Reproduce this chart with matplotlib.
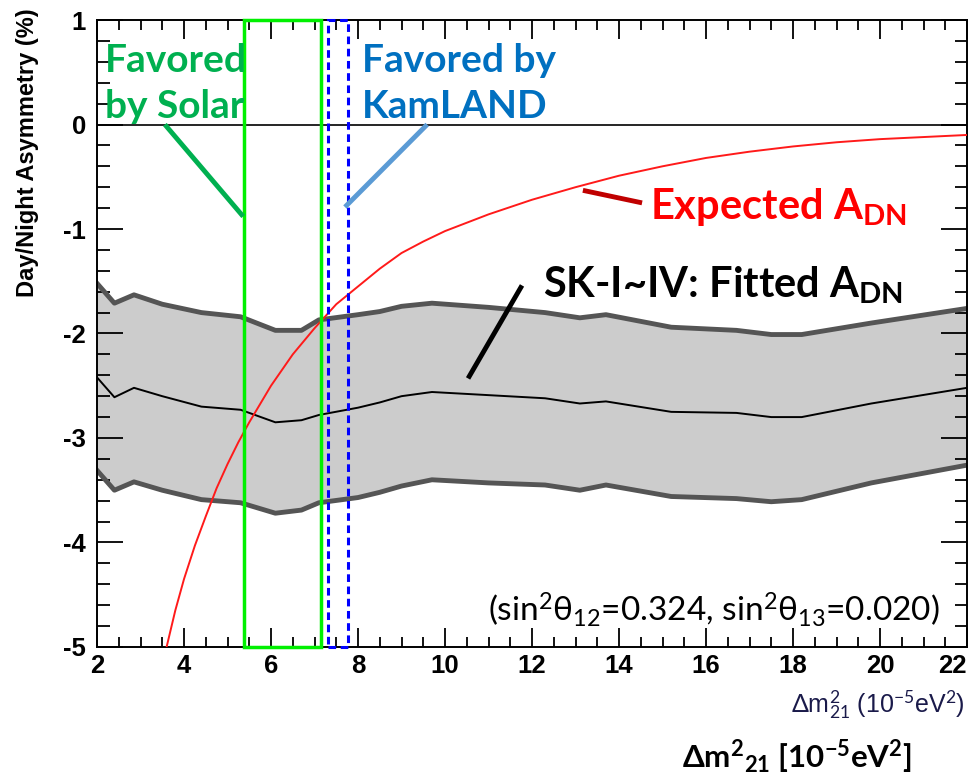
import numpy as np
import matplotlib.pyplot as plt
from matplotlib.patches import Rectangle

plt.rcParams['mathtext.fontset'] = 'custom'
plt.rcParams['mathtext.rm'] = 'Lato'
plt.rcParams['mathtext.it'] = 'Lato:italic'
plt.rcParams['mathtext.bf'] = 'Lato:bold'

# fitted A_DN band (SK-I~IV)
fit_x = [2.0, 2.4, 2.85, 3.5, 4.4, 5.3, 6.1, 6.7, 7.1, 8.0, 8.5, 9.0, 9.7, 11.0,
         12.3, 13.1, 13.7, 15.2, 16.7, 17.5, 18.2, 19.8, 22.0]
fit_mid = [-2.42, -2.61, -2.52, -2.60, -2.70, -2.73, -2.85, -2.83, -2.78, -2.71,
           -2.66, -2.60, -2.56, -2.59, -2.62, -2.67, -2.65, -2.75, -2.76, -2.80,
           -2.80, -2.67, -2.52]
fit_hi = [-1.52, -1.71, -1.63, -1.72, -1.80, -1.84, -1.97, -1.97, -1.87, -1.82,
          -1.79, -1.74, -1.71, -1.75, -1.80, -1.85, -1.82, -1.94, -1.97, -2.01,
          -2.01, -1.90, -1.76]
fit_lo = [-3.31, -3.50, -3.42, -3.50, -3.59, -3.62, -3.72, -3.69, -3.62, -3.57,
          -3.52, -3.46, -3.40, -3.43, -3.45, -3.50, -3.45, -3.56, -3.58, -3.61,
          -3.59, -3.43, -3.26]

# expected A_DN
exp_x = [3.6, 3.8, 4.0, 4.25, 4.5, 4.75, 5.0, 5.25, 5.5, 6.0, 6.5, 7.0, 7.5, 8.0,
         8.5, 9.0, 9.5, 10, 11, 12, 13, 14, 15, 16, 17, 18, 19, 20, 21, 22]
exp_y = [-5.0, -4.65, -4.35, -4.03, -3.75, -3.48, -3.25, -3.04, -2.85, -2.5, -2.2,
         -1.95, -1.72, -1.55, -1.38, -1.23, -1.12, -1.02, -0.86, -0.72, -0.6, -0.49,
         -0.4, -0.32, -0.26, -0.21, -0.17, -0.14, -0.12, -0.10]

solar_range = [5.386, 7.15]
kamland_range = [7.30, 7.76]

# pointer lines for the labels
solar_ptr = [[3.56, 5.36], [0.0, -0.88]]
kam_ptr = [[9.59, 7.70], [0.0, -0.79]]
exp_ptr = [[13.17, 14.53], [-0.63, -0.75]]
fit_ptr = [[11.77, 10.53], [-1.54, -2.43]]

fig = plt.figure(figsize=(9.75, 7.79), dpi=100)
ax = fig.add_axes([0.0995, 0.1695, 0.8923, 0.8048])

ax.fill_between(fit_x, fit_lo, fit_hi, color='#cccccc', lw=0, zorder=1)
ax.plot(fit_x, fit_hi, color='#555555', lw=3.5, zorder=2)
ax.plot(fit_x, fit_lo, color='#555555', lw=3.5, zorder=2)
ax.plot(fit_x, fit_mid, color='black', lw=1.4, zorder=3)
ax.plot(exp_x, exp_y, color='#ff1a1a', lw=1.4, zorder=4)
ax.axhline(0, color='black', lw=1.2, zorder=3)

ax.add_patch(Rectangle((solar_range[0], -5), solar_range[1] - solar_range[0], 6,
                       fill=False, ec='#00f000', lw=2.5, zorder=5, clip_on=False))
ax.add_patch(Rectangle((kamland_range[0], -5), kamland_range[1] - kamland_range[0], 6,
                       fill=False, ec='#0000ff', lw=2.2, ls=(0, (2.5, 1.5)), zorder=5,
                       clip_on=False))

ax.plot(*solar_ptr, color='#00b050', lw=3.5, zorder=6, solid_capstyle='butt')
ax.plot(*kam_ptr, color='#5b9bd5', lw=3.5, zorder=6, solid_capstyle='butt')
ax.plot(*exp_ptr, color='#c00000', lw=3.5, zorder=6, solid_capstyle='butt')
ax.plot(*fit_ptr, color='black', lw=3.5, zorder=6, solid_capstyle='butt')

ax.set_xlim(2, 22)
ax.set_ylim(-5, 1)
ax.set_xticks(np.arange(2, 23, 2))
ax.set_xticks(np.arange(2, 22.1, 0.5), minor=True)
ax.set_xticklabels([str(v) for v in range(2, 23, 2)])
ax.set_yticks(np.arange(-5, 1.1, 1))
ax.set_yticks(np.arange(-5, 1.01, 0.2), minor=True)
ax.set_yticklabels(['-5', '-4', '-3', '-2', '-1', '0', '1'])
ax.tick_params(axis='both', which='both', direction='in', top=True, right=True,
               width=1.3, labelsize=18.5)
ax.tick_params(axis='x', which='major', length=14, pad=5)
ax.tick_params(axis='x', which='minor', length=7)
ax.tick_params(axis='y', which='major', length=19, pad=8)
ax.tick_params(axis='y', which='minor', length=9)
for lab in ax.get_xticklabels() + ax.get_yticklabels():
    lab.set_family('Liberation Sans')
    lab.set_fontweight('bold')
ax.get_xticklabels()[-1].set_horizontalalignment('right')
for s in ax.spines.values():
    s.set_linewidth(1.4)

fig.text(28 / 975, 1 - 8 / 779, 'Day/Night Asymmetry (%)', rotation=90, ha='center',
         va='top', fontsize=17, family='Liberation Sans', fontweight='bold')

txt = dict(family=['Lato', 'DejaVu Sans'], fontweight='bold', fontsize=28, zorder=7)
ax.text(2.18, 0.50, 'Favored', color='#00b050', va='baseline', **txt)
ax.text(2.18, 0.06, 'by Solar', color='#00b050', va='baseline', **txt)
ax.text(8.09, 0.50, 'Favored by', color='#0070c0', va='baseline', **txt)
ax.text(8.09, 0.06, 'KamLAND', color='#0070c0', va='baseline', **txt)
txt['fontsize'] = 30
ax.text(14.71, -0.90, r'Expected A$_{\mathbf{DN}}$', color='#ff0000', va='baseline', **txt)
ax.text(12.25, -1.65, r'SK-I~IV: Fitted A$_{\mathbf{DN}}$', color='black',
        va='baseline', **txt)

ax.text(10.99, -4.76, r'(sin$^2$θ$_{12}$=0.324, sin$^2$θ$_{13}$=0.020)',
        family=['Lato', 'DejaVu Sans'], fontsize=24, va='baseline', zorder=7)

fig.text(965 / 975, 1 - 705 / 779, r'$\Delta$m$^2_{21}$ (10$^{-5}$eV$^2$)',
         ha='right', va='center', fontsize=18, color='#1a1a4a',
         family='Liberation Sans')
fig.text(797 / 975, 1 - 757 / 779, r'$\mathbf{\Delta}$m$^{\mathbf{2}}$$_{\mathbf{21}}$ [10$^{\mathbf{-5}}$eV$^{\mathbf{2}}$]',
         ha='center', va='center', fontsize=22.5, fontweight='bold',
         family=['Lato', 'DejaVu Sans'])

fig.savefig('out.png', dpi=100)
